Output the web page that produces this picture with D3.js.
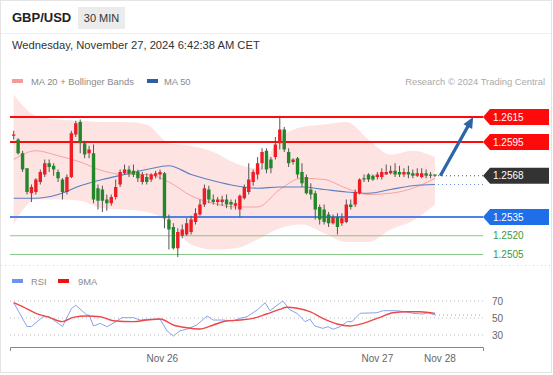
<!DOCTYPE html>
<html>
<head>
<meta charset="utf-8">
<script src="https://cdn.jsdelivr.net/npm/d3@7"></script>
<style>
  body { margin: 0; background: #fff; }
  svg { font-family: "Liberation Sans", Arial, sans-serif; display: block; }
</style>
</head>
<body>
<svg id="chart" width="553" height="375"></svg>
<script>
// Bougies 30 min GBP/USD (index 0 = première bougie)
const open  = [1.2600,1.2597,1.2586,1.2574,1.2554,1.2555,1.2563,1.2569,1.2578,1.2576,1.2571,1.2565,1.2555,1.2567,1.2601,1.2611,1.2594,1.2586,1.2586,1.2558,
               1.2557,1.2549,1.2546,1.2551,1.2561,1.2570,1.2573,1.2572,1.2571,1.2563,1.2567,1.2565,1.2568,1.2569,1.2570,1.2533,1.2527,1.2510,1.2520,1.2521,
               1.2523,1.2531,1.2537,1.2545,1.2557,1.2549,1.2547,1.2547,1.2549,1.2547,1.2544,1.2541,1.2550,1.2555,1.2563,1.2569,1.2578,1.2588,1.2581,1.2583,
               1.2594,1.2605,1.2587,1.2579,1.2582,1.2571,1.2567,1.2557,1.2554,1.2543,1.2541,1.2537,1.2530,1.2535,1.2530,1.2531,1.2545,1.2545,1.2554,1.2566,
               1.2569,1.2568,1.2567,1.2567,1.2569,1.2570,1.2572,1.2571,1.2569,1.2571,1.2570,1.2568,1.2567,1.2570,1.2569,1.2569];
const high  = [1.2604,1.2598,1.2588,1.2574,1.2561,1.2566,1.2573,1.2581,1.2581,1.2578,1.2573,1.2566,1.2569,1.2604,1.2612,1.2613,1.2596,1.2592,1.2593,1.2561,
               1.2560,1.2553,1.2553,1.2565,1.2573,1.2577,1.2576,1.2577,1.2573,1.2571,1.2570,1.2570,1.2572,1.2573,1.2571,1.2537,1.2530,1.2526,1.2529,1.2534,
               1.2536,1.2542,1.2549,1.2561,1.2560,1.2553,1.2551,1.2552,1.2553,1.2549,1.2549,1.2553,1.2561,1.2578,1.2573,1.2583,1.2590,1.2590,1.2583,1.2599,
               1.2616,1.2607,1.2590,1.2582,1.2583,1.2578,1.2569,1.2562,1.2556,1.2545,1.2545,1.2539,1.2537,1.2538,1.2538,1.2549,1.2549,1.2557,1.2566,1.2569,
               1.2570,1.2569,1.2571,1.2574,1.2577,1.2576,1.2578,1.2576,1.2574,1.2576,1.2573,1.2574,1.2574,1.2573,1.2571,1.2569];
const low   = [1.2597,1.2585,1.2571,1.2553,1.2547,1.2553,1.2561,1.2567,1.2571,1.2568,1.2563,1.2549,1.2553,1.2566,1.2599,1.2586,1.2582,1.2582,1.2546,1.2541,
               1.2539,1.2540,1.2544,1.2549,1.2559,1.2569,1.2567,1.2567,1.2563,1.2561,1.2561,1.2563,1.2566,1.2565,1.2526,1.2509,1.2509,1.2503,1.2518,1.2520,
               1.2521,1.2529,1.2536,1.2543,1.2546,1.2545,1.2544,1.2544,1.2542,1.2541,1.2541,1.2535,1.2549,1.2553,1.2560,1.2565,1.2573,1.2570,1.2570,1.2581,
               1.2589,1.2587,1.2575,1.2577,1.2566,1.2559,1.2553,1.2549,1.2533,1.2529,1.2529,1.2527,1.2529,1.2521,1.2528,1.2530,1.2541,1.2543,1.2553,1.2563,
               1.2563,1.2564,1.2565,1.2565,1.2569,1.2569,1.2567,1.2567,1.2567,1.2566,1.2566,1.2567,1.2566,1.2566,1.2566,1.2567];
const close = [1.2601,1.2586,1.2573,1.2555,1.2559,1.2565,1.2571,1.2578,1.2575,1.2573,1.2566,1.2555,1.2567,1.2602,1.2610,1.2594,1.2585,1.2589,1.2549,1.2548,
               1.2548,1.2546,1.2551,1.2559,1.2571,1.2573,1.2570,1.2569,1.2566,1.2569,1.2563,1.2569,1.2570,1.2571,1.2534,1.2525,1.2510,1.2523,1.2525,1.2530,
               1.2533,1.2538,1.2545,1.2558,1.2549,1.2547,1.2549,1.2549,1.2545,1.2545,1.2546,1.2552,1.2559,1.2565,1.2571,1.2578,1.2587,1.2573,1.2574,1.2593,
               1.2605,1.2589,1.2578,1.2581,1.2569,1.2562,1.2554,1.2553,1.2541,1.2533,1.2531,1.2530,1.2535,1.2527,1.2534,1.2545,1.2543,1.2555,1.2565,1.2565,
               1.2565,1.2565,1.2569,1.2571,1.2571,1.2572,1.2569,1.2569,1.2571,1.2569,1.2568,1.2570,1.2570,1.2568,1.2568,1.2568];

// Indicateurs (échantillons toutes les 5 bougies)
const indIdx  = [0,5,10,15,20,25,30,35,40,45,50,55,60,65,70,75,80,85,90,95];
const ma20    = [1.2581,1.2588,1.2584,1.2579,1.2572,1.2569,1.2569,1.2563,1.2552,1.2546,1.2543,1.2543,1.2557,1.2566,1.2565,1.2558,1.2553,1.2554,1.2558,1.2566];
const ma50    = [1.2550,1.2550,1.2553,1.2560,1.2565,1.2569,1.2573,1.2576,1.2569,1.2564,1.2560,1.2558,1.2559,1.2559,1.2557,1.2555,1.2554,1.2557,1.2560,1.2561];
const bbUpper = [1.2633,1.2616,1.2613,1.2612,1.2611,1.2611,1.2609,1.2594,1.2592,1.2587,1.2578,1.2574,1.2598,1.2607,1.2609,1.2611,1.2597,1.2585,1.2588,1.2583];
const bbLower = [1.2529,1.2549,1.2549,1.2548,1.2542,1.2541,1.2539,1.2531,1.2513,1.2509,1.2510,1.2517,1.2526,1.2529,1.2522,1.2515,1.2515,1.2525,1.2532,1.2545];

// RSI et sa moyenne 9
const rsiIdx = [0,3,4,6.6,8,11,13,14,16.5,17,18,19.5,21,22.4,24.4,27,28.5,30,33,34.6,36,37.5,39,41.3,43.6,45,47.2,49.5,51,52.6,54.9,56.7,57.8,60,60.7,62.3,63.9,65.7,66.8,67.9,69.7,70.9,72,73.6,75.2,76.3,78.1,81.9,83.3,86.4,88.7,90,92.3,93.4,95];
const rsiVal = [68,40,40,51.5,51.5,40,61,65,53.5,53.5,40.6,43.7,39.8,43.7,50.4,50.4,47.6,48.5,48.5,34.7,28.8,35,36.7,41.8,52.4,47.6,47.6,46.5,49.6,51.5,59.4,68,58.6,67.3,70,59.4,55.5,45.7,48.5,40.6,37.8,39.8,36.7,39.8,45.7,45.7,55.5,56.2,58.6,58.6,57,55.5,54.7,56.2,53.5];
const rsiMaIdx = [0,2,5,8,11,13.4,16.5,19.5,22.4,27,30,33,36,39,42,45,48,51,54,57,60,61.6,63.9,66.8,69.7,72.9,75.8,78.8,82.6,85.5,88.7,91.6,95];
const rsiMaVal = [68,63.3,55.5,50.8,45.7,50.8,52.4,51.5,46.8,45.7,47.6,48.8,41.8,38.6,37,41.8,46.5,47.6,49.6,54.7,60.2,62.6,61.4,57.4,49.6,43,40.6,43.7,50.8,56.2,57.4,57.4,55.5];
const rsiLevels = [70, 50, 30];

// Niveaux et axe du temps
const resistances = [1.2615, 1.2595];
const supports = [1.2535];
const minorSupports = [1.2520, 1.2505];
const lastPrice = 1.2568;
const target = 1.2615;
const dateTicks = [33.4, 81.9, 96];
const dateLabels = ["Nov 26", "Nov 27", "Nov 28"];

const svg = d3.select("#chart");
const plotLeft = 10, plotRight = 483;
const smallFont = 9.4;

// Cadre
svg.append("rect").attr("x", 0.5).attr("y", 0.5).attr("width", 551).attr("height", 372)
  .attr("fill", "none").attr("stroke", "#e4e4e4");
svg.append("line").attr("x1", 1).attr("x2", 551).attr("y1", 33.5).attr("y2", 33.5).attr("stroke", "#f0f0f0");
svg.append("line").attr("x1", 1).attr("x2", 551).attr("y1", 265.5).attr("y2", 265.5)
  .attr("stroke", "#d8d8d8").attr("stroke-dasharray", "1,3");

// En-tête
svg.append("text").attr("x", 12).attr("y", 22).attr("font-size", 13).attr("font-weight", "bold")
  .attr("fill", "#222").text("GBP/USD");
svg.append("rect").attr("x", 78).attr("y", 7).attr("width", 47).attr("height", 22).attr("fill", "#ebebeb");
svg.append("text").attr("x", 101.5).attr("y", 22).attr("font-size", 11).attr("fill", "#333")
  .attr("text-anchor", "middle").text("30 MIN");
svg.append("text").attr("x", 12).attr("y", 49).attr("font-size", 11.2).attr("fill", "#333")
  .text("Wednesday, November 27, 2024 6:42:38 AM CET");

// Légende du haut
svg.append("rect").attr("x", 12).attr("y", 79).attr("width", 11).attr("height", 4).attr("fill", "#f59a9a");
svg.append("text").attr("x", 31).attr("y", 85).attr("font-size", smallFont).attr("fill", "#8a8a8a").text("MA 20 + Bollinger Bands");
svg.append("rect").attr("x", 147).attr("y", 79).attr("width", 11).attr("height", 4).attr("fill", "#2d5ea5");
svg.append("text").attr("x", 164).attr("y", 85).attr("font-size", smallFont).attr("fill", "#8a8a8a").text("MA 50");
svg.append("text").attr("x", 545).attr("y", 85).attr("font-size", smallFont).attr("fill", "#aaa")
  .attr("text-anchor", "end").text("Research \u00a9 2024 Trading Central");

// Échelles
const x = d3.scaleLinear().domain([0, 95]).range([13.7, 435]);
const y = d3.scaleLinear().domain([1.2505, 1.2615]).range([254.5, 117]);
const yr = d3.scaleLinear().domain([30, 70]).range([335, 301]);

const main = svg.append("g");

// Bandes de Bollinger
const bandData = indIdx.map((d, i) => ({ i: d, up: bbUpper[i], lo: bbLower[i] }));
main.append("path").datum(bandData)
  .attr("fill", "#fee3e3")
  .attr("d", d3.area().curve(d3.curveMonotoneX).x(d => x(d.i)).y0(d => y(d.lo)).y1(d => y(d.up)));

// Niveaux horizontaux
main.selectAll("line.minor").data(minorSupports).enter().append("line")
  .attr("x1", plotLeft).attr("x2", plotRight).attr("y1", d => y(d)).attr("y2", d => y(d))
  .attr("stroke", "#86c986").attr("stroke-width", 1);

// Moyennes mobiles
const line = d3.line().curve(d3.curveMonotoneX).x(d => x(d[0])).y(d => y(d[1]));
main.append("path").datum(indIdx.map((d, i) => [d, ma20[i]]))
  .attr("fill", "none").attr("stroke", "#f6a2a2").attr("stroke-width", 1).attr("d", line);
main.append("path").datum(indIdx.map((d, i) => [d, ma50[i]]))
  .attr("fill", "none").attr("stroke", "#5b80c0").attr("stroke-width", 1.2).attr("d", line);

main.selectAll("line.res").data(resistances).enter().append("line")
  .attr("x1", plotLeft).attr("x2", plotRight).attr("y1", d => y(d)).attr("y2", d => y(d))
  .attr("stroke", "#ff0a0a").attr("stroke-width", 2);
main.selectAll("line.sup").data(supports).enter().append("line")
  .attr("x1", plotLeft).attr("x2", plotRight).attr("y1", d => y(d)).attr("y2", d => y(d))
  .attr("stroke", "#4f84e6").attr("stroke-width", 2);

// Prolongements pointillés
main.append("line").attr("x1", x(95) + 3).attr("x2", plotRight)
  .attr("y1", y(lastPrice)).attr("y2", y(lastPrice))
  .attr("stroke", "#555").attr("stroke-dasharray", "1,3");
main.append("line").attr("x1", x(95) + 3).attr("x2", plotRight)
  .attr("y1", y(ma50[ma50.length - 1])).attr("y2", y(ma50[ma50.length - 1]))
  .attr("stroke", "#6a8fd6").attr("stroke-dasharray", "1,3");

// Bougies
const candles = open.map((o, i) => ({ i, o, h: high[i], l: low[i], c: close[i] }));
const cg = main.selectAll("g.candle").data(candles).enter().append("g");
cg.append("line")
  .attr("x1", d => x(d.i)).attr("x2", d => x(d.i))
  .attr("y1", d => y(d.h)).attr("y2", d => y(d.l))
  .attr("stroke", "#555").attr("stroke-width", 1);
cg.append("rect")
  .attr("x", d => x(d.i) - 1.7).attr("width", 3.4)
  .attr("y", d => y(Math.max(d.o, d.c)))
  .attr("height", d => Math.max(1, Math.abs(y(d.o) - y(d.c))))
  .attr("fill", d => d.c >= d.o ? "#ee1d25" : "#23872a");

// Flèche vers l'objectif
const ax0 = x(96.2), ay0 = y(lastPrice), ax1 = x(103.6), ay1 = y(target);
const ang = Math.atan2(ay1 - ay0, ax1 - ax0);
const back = 9;
main.append("line").attr("x1", ax0).attr("y1", ay0)
  .attr("x2", ax1 - back * Math.cos(ang)).attr("y2", ay1 - back * Math.sin(ang))
  .attr("stroke", "#2d64a6").attr("stroke-width", 3.2);
const head = [[ax1, ay1],
  [ax1 - 11 * Math.cos(ang) + 5 * Math.sin(ang), ay1 - 11 * Math.sin(ang) - 5 * Math.cos(ang)],
  [ax1 - 11 * Math.cos(ang) - 5 * Math.sin(ang), ay1 - 11 * Math.sin(ang) + 5 * Math.cos(ang)]];
main.append("polygon").attr("points", head.map(p => p.join(",")).join(" ")).attr("fill", "#2d64a6");

// Étiquettes de prix
const tags = [
  { v: resistances[0], fill: "#ff0a0a" },
  { v: resistances[1], fill: "#ff0a0a" },
  { v: lastPrice, fill: "#333" },
  { v: supports[0], fill: "#1f6fe8" }
];
const tg = main.selectAll("g.tag").data(tags).enter().append("g");
tg.append("path")
  .attr("d", d => {
    const cy = y(d.v);
    return `M${plotRight},${cy} L${plotRight + 7},${cy - 8} L549,${cy - 8} L549,${cy + 8} L${plotRight + 7},${cy + 8} Z`;
  })
  .attr("fill", d => d.fill);
tg.append("text").attr("x", 493).attr("y", d => y(d.v) + 3.6)
  .attr("font-size", 10).attr("fill", "#fff").text(d => d3.format(".4f")(d.v));
main.selectAll("text.minor").data(minorSupports).enter().append("text")
  .attr("x", 493).attr("y", d => y(d) + 3.6)
  .attr("font-size", 10).attr("fill", "#3a9a3a").text(d => d3.format(".4f")(d));

// Panneau RSI
svg.append("rect").attr("x", 12).attr("y", 279).attr("width", 11).attr("height", 4).attr("fill", "#6f92ee");
svg.append("text").attr("x", 31).attr("y", 285).attr("font-size", smallFont).attr("fill", "#8a8a8a").text("RSI");
svg.append("rect").attr("x", 58).attr("y", 279).attr("width", 11).attr("height", 4).attr("fill", "#f01010");
svg.append("text").attr("x", 78).attr("y", 285).attr("font-size", smallFont).attr("fill", "#8a8a8a").text("9MA");

const rsiG = svg.append("g");
rsiG.selectAll("line.lvl").data(rsiLevels).enter().append("line")
  .attr("x1", plotLeft).attr("x2", plotRight).attr("y1", d => yr(d)).attr("y2", d => yr(d))
  .attr("stroke", "#bbb").attr("stroke-dasharray", "1,3");
rsiG.selectAll("text.lvl").data(rsiLevels).enter().append("text")
  .attr("x", 492).attr("y", d => yr(d) + 3.5).attr("font-size", 10).attr("fill", "#666").text(d => d);

const rline = d3.line().curve(d3.curveLinear).x(d => x(d[0])).y(d => yr(d[1]));
rsiG.append("line").attr("x1", x(95)).attr("x2", plotRight)
  .attr("y1", yr(rsiVal[rsiVal.length - 1])).attr("y2", yr(rsiVal[rsiVal.length - 1]))
  .attr("stroke", "#7d9df0").attr("stroke-dasharray", "1,3");
rsiG.append("path").datum(rsiIdx.map((d, i) => [d, rsiVal[i]]))
  .attr("fill", "none").attr("stroke", "#86a3f0").attr("stroke-width", 1).attr("d", rline);
rsiG.append("path").datum(rsiMaIdx.map((d, i) => [d, rsiMaVal[i]]))
  .attr("fill", "none").attr("stroke", "#f04646").attr("stroke-width", 1.4)
  .attr("d", rline.curve(d3.curveMonotoneX));

// Axe du temps
const xAxisScale = x.copy().domain([x.invert(plotLeft), x.invert(plotRight)]).range([plotLeft, plotRight]);
const axis = svg.append("g").attr("transform", "translate(0,347)")
  .call(d3.axisBottom(xAxisScale).tickValues(dateTicks).tickFormat((d, i) => dateLabels[i])
    .tickSizeInner(0).tickSizeOuter(4).tickPadding(8));
axis.select(".domain").attr("stroke", "#888");
axis.selectAll("text").attr("font-size", 10).attr("fill", "#666").attr("font-family", "Liberation Sans, Arial, sans-serif");
</script>
</body>
</html>
